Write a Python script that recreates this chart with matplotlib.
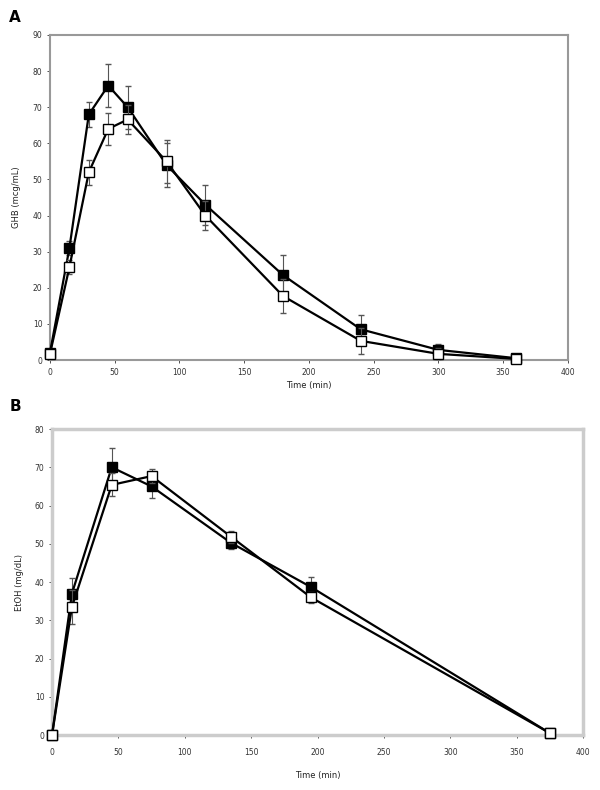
import matplotlib
matplotlib.use('Agg')
import matplotlib.pyplot as plt

# Panel A: GHB concentration
time_a = [0, 15, 30, 45, 60, 90, 120, 180, 240, 300, 360]
ghb_filled = [2, 31, 68, 76, 70, 54, 43, 23.5, 8.5, 2.8, 0.5]
ghb_filled_err = [0.5, 2, 3.5, 6, 6, 6, 5.5, 5.5, 4, 1.5, 0.5]
ghb_open = [1.7, 25.7, 52, 64, 66.6, 55, 40, 17.7, 5.3, 1.7, 0.3]
ghb_open_err = [0.5, 2, 3.5, 4.5, 4, 6, 4, 4.7, 3.5, 1.5, 0.5]

# Panel B: EtOH concentration
time_b = [0, 15, 45, 75, 135, 195, 375]
etoh_filled = [0, 37, 70, 65, 50.2, 38.7, 0.5]
etoh_filled_err = [0, 4, 5, 3, 1.5, 2.5, 0.5]
etoh_open = [0, 33.5, 65.4, 67.7, 51.8, 36, 0.5]
etoh_open_err = [0, 4.5, 3, 1.8, 1.5, 1.5, 0.5]

fig = plt.figure(figsize=(6, 7.9), dpi=100)
ax_a = fig.add_axes([0.0833, 0.5443, 0.8633, 0.4114])
ax_b = fig.add_axes([0.0867, 0.0696, 0.885, 0.3873])


def draw_panel(ax, t, yf, ef, yo, eo, spine_color, spine_w, xpad, lpad):
    for y, e, face, z in [(yf, ef, 'black', 3), (yo, eo, 'white', 4)]:
        lines = ax.errorbar(t, y, yerr=e, color='black', ecolor='#555555', elinewidth=0.8, capsize=2.5,
                            marker='s', markersize=6.5, markerfacecolor=face, markeredgecolor='black',
                            markeredgewidth=1.0, linewidth=1.6, zorder=z)
        lines[0].set_clip_on(False)
    for s in ax.spines.values():
        s.set_color(spine_color)
        s.set_linewidth(spine_w)
    ax.tick_params(axis='both', labelsize=5.5, colors='#333333', length=2.5, width=0.6,
                   direction='out', pad=3)
    ax.tick_params(axis='x', pad=xpad)
    ax.set_xlim(0, 400)
    ax.set_xticks(range(0, 401, 50))
    ax.set_xlabel('Time (min)', fontsize=6, color='#222222', labelpad=lpad)


draw_panel(ax_a, time_a, ghb_filled, ghb_filled_err, ghb_open, ghb_open_err, '#999999', 1.5, 3, 3)
ax_a.set_ylim(0, 90)
ax_a.set_yticks(range(0, 91, 10))
ax_a.set_ylabel('GHB (mcg/mL)', fontsize=6, color='#222222', labelpad=8)

draw_panel(ax_b, time_b, etoh_filled, etoh_filled_err, etoh_open, etoh_open_err, '#cccccc', 2.5, 7, 10)
ax_b.set_ylim(0, 80)
ax_b.set_yticks(range(0, 81, 10))
ax_b.set_ylabel('EtOH (mg/dL)', fontsize=6, color='#222222', labelpad=8)

fig.text(0.025, 0.978, 'A', fontsize=11, fontweight='bold', ha='center', va='center')
fig.text(0.025, 0.485, 'B', fontsize=11, fontweight='bold', ha='center', va='center')

fig.savefig('out.png', dpi=100, facecolor='white')
